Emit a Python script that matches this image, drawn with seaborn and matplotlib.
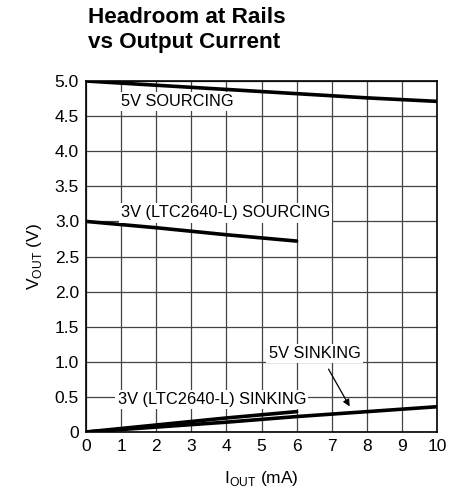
import matplotlib
matplotlib.use("Agg")
import matplotlib.pyplot as plt
import seaborn as sns
import pandas as pd

# кривые из графика (I_OUT в мА, V_OUT в В)
src5_x = [0, 2, 4, 6, 8, 10]
src5_y = [5.0, 4.94, 4.88, 4.82, 4.76, 4.71]
src3_x = [0, 2, 4, 6]
src3_y = [3.0, 2.91, 2.81, 2.72]
snk3_x = [0, 2, 4, 6]
snk3_y = [0.0, 0.10, 0.20, 0.29]
snk5_x = [0, 2, 4, 6, 8, 10]
snk5_y = [0.0, 0.07, 0.14, 0.22, 0.29, 0.36]

x_ticks = list(range(0, 11))
y_ticks = [0, 0.5, 1.0, 1.5, 2.0, 2.5, 3.0, 3.5, 4.0, 4.5, 5.0]
y_labels = ["0"] + [f"{v:.1f}" for v in y_ticks[1:]]

sns.set_style("white")
plt.rcParams['font.family'] = ['Liberation Sans Narrow', 'Liberation Sans', 'DejaVu Sans']
plt.rcParams['text.color'] = 'black'
plt.rcParams['axes.labelcolor'] = 'black'
plt.rcParams['xtick.color'] = 'black'
plt.rcParams['ytick.color'] = 'black'

fig = plt.figure(figsize=(4.54, 4.94), dpi=100)
ax = fig.add_axes([0.1894, 0.1255, 0.7732, 0.7105])

for xs, ys in [(src5_x, src5_y), (src3_x, src3_y), (snk3_x, snk3_y), (snk5_x, snk5_y)]:
    df = pd.DataFrame({'x': xs, 'y': ys})
    sns.lineplot(data=df, x='x', y='y', ax=ax, color='black', linewidth=2.6, zorder=3)

ax.set_xlim(0, 10)
ax.set_ylim(0, 5.0)
ax.set_xticks(x_ticks)
ax.set_yticks(y_ticks)
ax.set_yticklabels(y_labels)
ax.grid(True, color='#444444', linewidth=0.9)
ax.set_axisbelow(True)
for s in ax.spines.values():
    s.set_color('black')
    s.set_linewidth(1.2)
ax.tick_params(axis='both', labelsize=12.5, length=0, pad=5)

ax.set_xlabel(r'I$_{\mathregular{OUT}}$ (mA)', fontsize=12.5, labelpad=11)
ax.set_ylabel(r'V$_{\mathregular{OUT}}$ (V)', fontsize=12.5, labelpad=8)

box = dict(facecolor='white', edgecolor='none', pad=1.5)
fs = 11.8
ax.text(1.0, 4.71, '5V SOURCING', fontsize=fs, va='center', ha='left', bbox=box, zorder=4)
ax.text(1.0, 3.12, '3V (LTC2640-L) SOURCING', fontsize=fs, va='center', ha='left', bbox=box, zorder=4)
ax.text(0.9, 0.46, '3V (LTC2640-L) SINKING', fontsize=fs, va='center', ha='left', bbox=box, zorder=4)
ax.text(5.2, 1.12, '5V SINKING', fontsize=fs, va='center', ha='left', bbox=box, zorder=4)
ax.annotate('', xy=(7.55, 0.33), xytext=(6.87, 0.93),
            arrowprops=dict(arrowstyle='-|>', color='black', lw=0.9, mutation_scale=10), zorder=4)

fig.text(0.194, 0.985, 'Headroom at Rails\nvs Output Current', fontsize=16.2, fontweight='bold',
         va='top', ha='left', linespacing=1.2)

fig.savefig('out.png', dpi=100)
